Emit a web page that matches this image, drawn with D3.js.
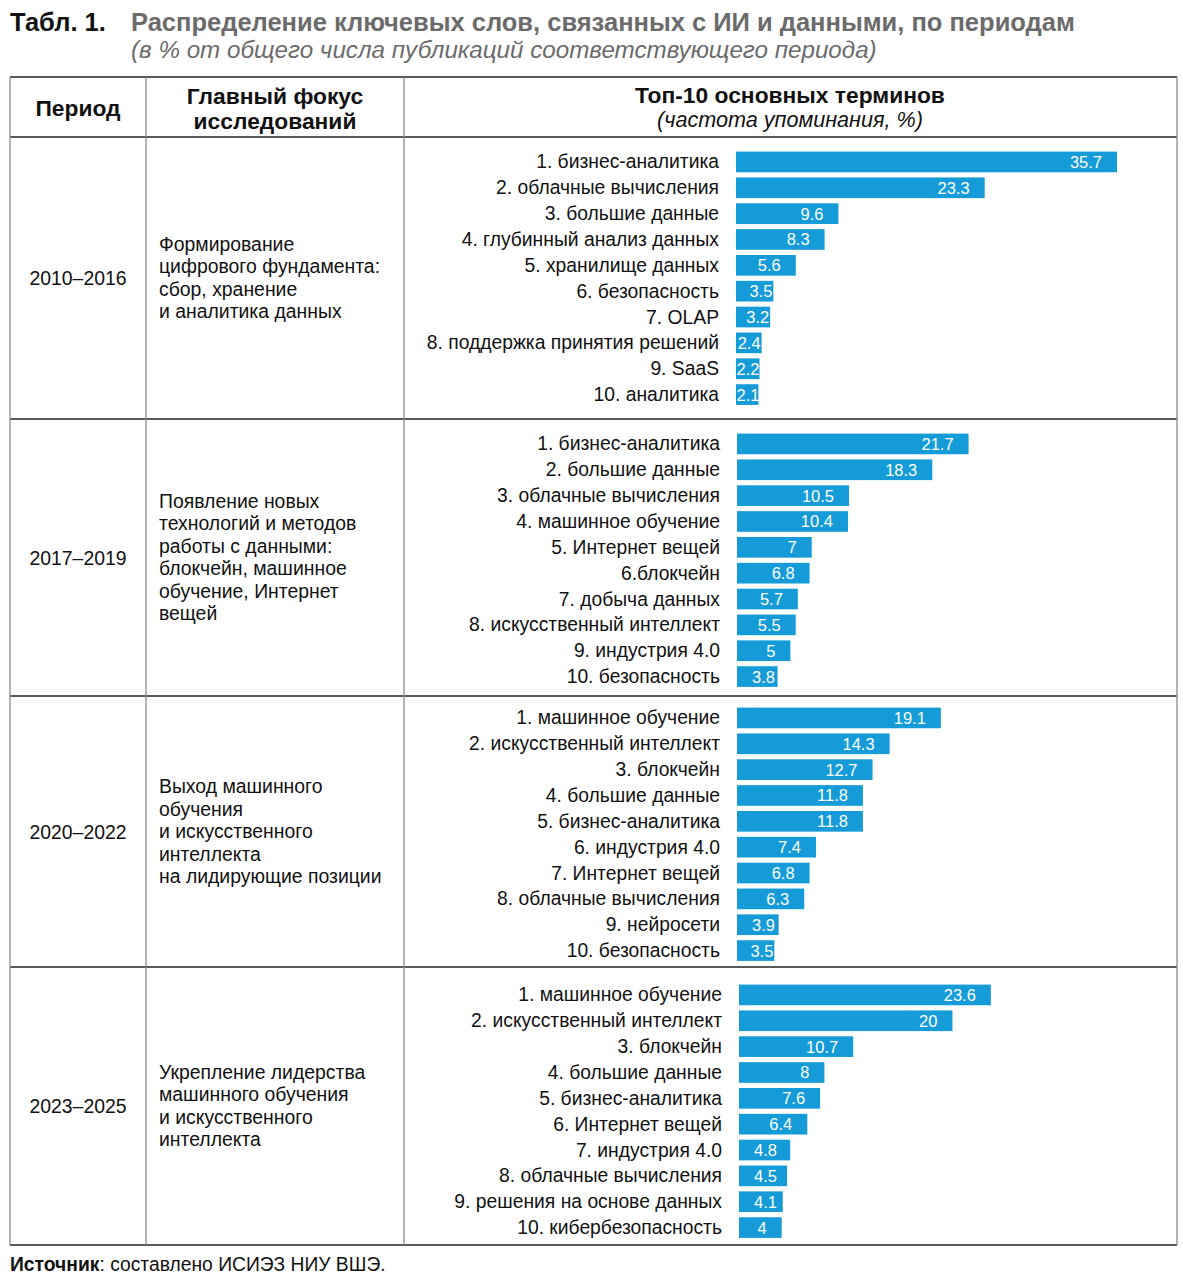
<!DOCTYPE html>
<html>
<head>
<meta charset="utf-8">
<script src="https://cdn.jsdelivr.net/npm/d3@7"></script>
<style>
  body { margin: 0; background: #fff; }
  svg { font-family: "Liberation Sans", Arial, sans-serif; display: block; }
</style>
</head>
<body>
<div id="chart"></div>
<script>
const periods = ["2010–2016", "2017–2019", "2020–2022", "2023–2025"];

const focusLines = [
  ["Формирование", "цифрового фундамента:", "сбор, хранение", "и аналитика данных"],
  ["Появление новых", "технологий и методов", "работы с данными:", "блокчейн, машинное", "обучение, Интернет", "вещей"],
  ["Выход машинного", "обучения", "и искусственного", "интеллекта", "на лидирующие позиции"],
  ["Укрепление лидерства", "машинного обучения", "и искусственного", "интеллекта"],
];

const terms2010 = ["1. бизнес-аналитика", "2. облачные вычисления", "3. большие данные", "4. глубинный анализ данных", "5. хранилище данных", "6. безопасность", "7. OLAP", "8. поддержка принятия решений", "9. SaaS", "10. аналитика"];
const values2010 = [35.7, 23.3, 9.6, 8.3, 5.6, 3.5, 3.2, 2.4, 2.2, 2.1];

const terms2017 = ["1. бизнес-аналитика", "2. большие данные", "3. облачные вычисления", "4. машинное обучение", "5. Интернет вещей", "6.блокчейн", "7. добыча данных", "8. искусственный интеллект", "9. индустрия 4.0", "10. безопасность"];
const values2017 = [21.7, 18.3, 10.5, 10.4, 7, 6.8, 5.7, 5.5, 5, 3.8];

const terms2020 = ["1. машинное обучение", "2. искусственный интеллект", "3. блокчейн", "4. большие данные", "5. бизнес-аналитика", "6. индустрия 4.0", "7. Интернет вещей", "8. облачные вычисления", "9. нейросети", "10. безопасность"];
const values2020 = [19.1, 14.3, 12.7, 11.8, 11.8, 7.4, 6.8, 6.3, 3.9, 3.5];

const terms2023 = ["1. машинное обучение", "2. искусственный интеллект", "3. блокчейн", "4. большие данные", "5. бизнес-аналитика", "6. Интернет вещей", "7. индустрия 4.0", "8. облачные вычисления", "9. решения на основе данных", "10. кибербезопасность"];
const values2023 = [23.6, 20, 10.7, 8, 7.6, 6.4, 4.8, 4.5, 4.1, 4];

const blocks = [
  { terms: terms2010, values: values2010 },
  { terms: terms2017, values: values2017 },
  { terms: terms2020, values: values2020 },
  { terms: terms2023, values: values2023 },
];

// layout
const width = 1183, height = 1280;
const tableLeft = 10, tableRight = 1177;
const col1 = 146, col2 = 404;
const headerTop = 77;
const rowLines = [137, 419, 696, 967, 1245];
const barTops = [149, 431, 705, 982];
const barStarts = [736, 737, 737, 739];
const step = 25.85;
const barColor = "#159bd7";
const ink = "#111";
const grey = "#6b6b6b";

const svg = d3.select("#chart").append("svg")
  .attr("width", width)
  .attr("height", height);

// title
const title = svg.append("text")
  .attr("x", 10)
  .attr("y", 31)
  .attr("font-size", 25.5)
  .attr("font-weight", "bold");
title.append("tspan").attr("fill", ink).text("Табл. 1.");
title.append("tspan").attr("x", 131).attr("fill", grey)
  .text("Распределение ключевых слов, связанных с ИИ и данными, по периодам");

svg.append("text")
  .attr("x", 131)
  .attr("y", 58)
  .attr("font-size", 24.2)
  .attr("font-style", "italic")
  .attr("fill", grey)
  .text("(в % от общего числа публикаций соответствующего периода)");

// header
svg.append("text")
  .attr("x", (tableLeft + col1) / 2)
  .attr("y", 116)
  .attr("text-anchor", "middle")
  .attr("font-size", 22.8)
  .attr("font-weight", "bold")
  .attr("fill", ink)
  .text("Период");

svg.append("text")
  .attr("text-anchor", "middle")
  .attr("font-size", 22.8)
  .attr("font-weight", "bold")
  .attr("fill", ink)
  .selectAll("tspan")
  .data(["Главный фокус", "исследований"])
  .join("tspan")
  .attr("x", (col1 + col2) / 2)
  .attr("y", (d, i) => 104 + i * 25)
  .text(d => d);

svg.append("text")
  .attr("x", 790)
  .attr("y", 103)
  .attr("text-anchor", "middle")
  .attr("font-size", 22.8)
  .attr("font-weight", "bold")
  .attr("fill", ink)
  .text("Топ-10 основных терминов");

svg.append("text")
  .attr("x", 790)
  .attr("y", 127)
  .attr("text-anchor", "middle")
  .attr("font-size", 21.6)
  .attr("font-style", "italic")
  .attr("fill", ink)
  .text("(частота упоминания, %)");

// table lines
const grid = svg.append("g");
[headerTop].concat(rowLines).forEach(y => {
  grid.append("line")
    .attr("x1", tableLeft).attr("x2", tableRight)
    .attr("y1", y).attr("y2", y)
    .attr("stroke", "#222").attr("stroke-width", 1.3);
});
[tableLeft, col1, col2, tableRight].forEach(x => {
  grid.append("line")
    .attr("x1", x).attr("x2", x)
    .attr("y1", headerTop).attr("y2", rowLines[rowLines.length - 1])
    .attr("stroke", "#8a8a8a").attr("stroke-width", 1.3);
});

// one value scale shared by all periods
const x = d3.scaleLinear().domain([0, 35.7]).range([0, 381]);

blocks.forEach((block, i) => {
  const top = rowLines[i], bottom = rowLines[i + 1];
  const mid = (top + bottom) / 2;
  const g = svg.append("g");

  // period
  g.append("text")
    .attr("x", (tableLeft + col1) / 2)
    .attr("y", mid + 7)
    .attr("text-anchor", "middle")
    .attr("font-size", 19.4)
    .attr("fill", ink)
    .text(periods[i]);

  // focus text
  const lines = focusLines[i];
  const lh = 22.5;
  const firstY = mid - (lines.length - 1) * lh / 2 + 6.5;
  g.append("text")
    .attr("font-size", 19.4)
    .attr("fill", ink)
    .selectAll("tspan")
    .data(lines)
    .join("tspan")
    .attr("x", 159)
    .attr("y", (d, k) => firstY + k * lh)
    .text(d => d);

  // bars
  const y = d3.scaleBand()
    .domain(block.terms)
    .range([barTops[i], barTops[i] + step * block.terms.length])
    .paddingInner(0.2)
    .paddingOuter(0.1);

  const x0 = barStarts[i];

  g.selectAll("rect")
    .data(block.values)
    .join("rect")
    .attr("x", x0)
    .attr("y", (d, k) => y(block.terms[k]))
    .attr("width", d => x(d))
    .attr("height", y.bandwidth())
    .attr("fill", barColor);

  g.selectAll("text.term")
    .data(block.terms)
    .join("text")
    .attr("class", "term")
    .attr("x", x0 - 17)
    .attr("y", d => y(d) + y.bandwidth() / 2 + 6.5)
    .attr("text-anchor", "end")
    .attr("font-size", 19.3)
    .attr("fill", ink)
    .text(d => d);

  g.selectAll("text.val")
    .data(block.values)
    .join("text")
    .attr("class", "val")
    .attr("y", (d, k) => y(block.terms[k]) + y.bandwidth() / 2 + 6)
    .attr("font-size", 16.5)
    .attr("fill", "#fff")
    .text(d => String(d))
    .each(function (d) {
      const w = this.getComputedTextLength();
      const bw = x(d);
      const pad = Math.max(1, Math.min(15, bw - w - 15));
      let start = x0 + bw - pad - w;
      if (start < x0 + 0.5) start = x0 + 0.5;
      d3.select(this).attr("x", start);
    });
});

// footer
const foot = svg.append("text")
  .attr("x", 10)
  .attr("y", 1271)
  .attr("font-size", 19.3)
  .attr("fill", ink);
foot.append("tspan").attr("font-weight", "bold").text("Источник");
foot.append("tspan").text(": составлено ИСИЭЗ НИУ ВШЭ.");
</script>
</body>
</html>
